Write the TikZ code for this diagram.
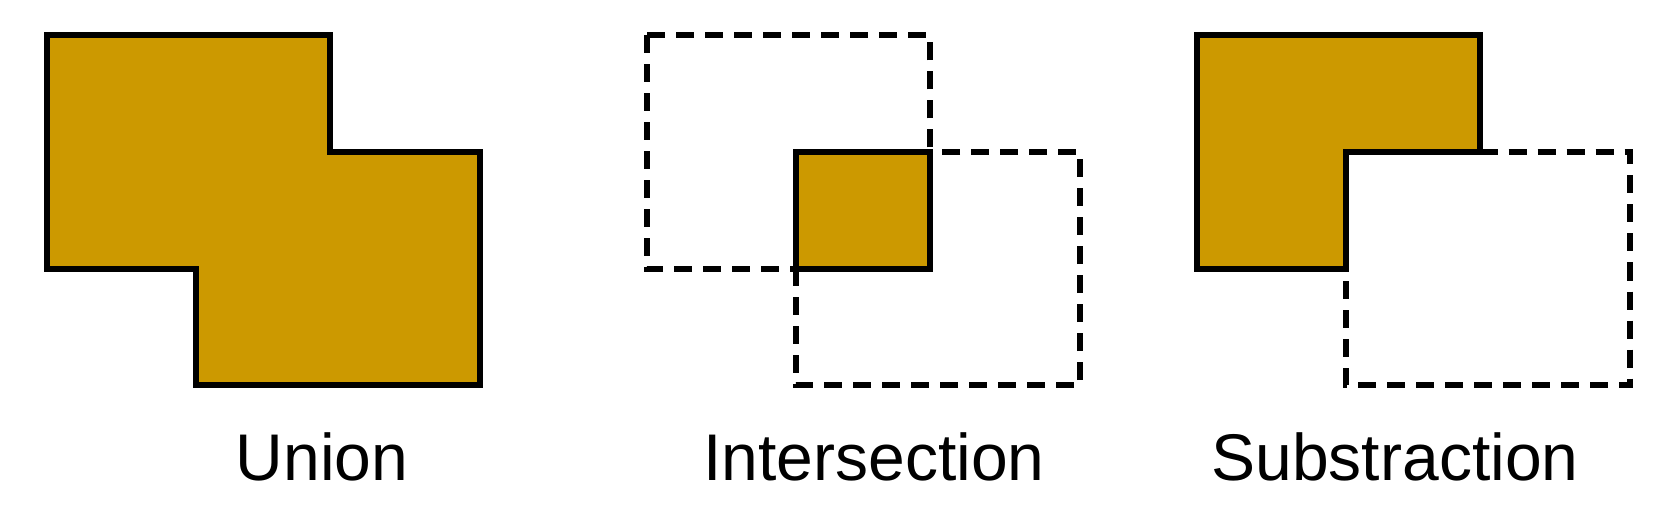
\documentclass[tikz,border=0pt]{standalone}
\usepackage{fontspec}
\setmainfont{Liberation Sans}
\definecolor{gold}{RGB}{204,153,0}
\begin{document}
\begin{tikzpicture}[x=0.5pt,y=-0.5pt,
  solidshape/.style={draw=black,line width=3pt,fill=gold},
  dashshape/.style={draw=black,line width=3pt,dash pattern=on 9pt off 5.5pt},
  caption/.style={anchor=base,inner sep=0pt,font=\fontsize{33pt}{36pt}\selectfont}]
\useasboundingbox (0,0) rectangle (1680,518);
% Union
\draw[solidshape] (46.5,35.5) -- (329.5,35.5) -- (329.5,152) -- (480,152) -- (480,385) -- (196,385) -- (196,269) -- (46.5,269) -- cycle;
\node[caption] (union) at (322,480) {Union};
% Intersection
\draw[dashshape] (646.5,35.5) rectangle (929.5,269);
\draw[dashshape] (796,152) rectangle (1080,385);
\draw[solidshape] (796,152) rectangle (929.5,269);
\node[caption] (inter) at (874,480) {Intersection};
% Substraction
\draw[dashshape] (1479.5,152) -- (1630,152) -- (1630,385) -- (1346,385) -- (1346,269);
\draw[solidshape] (1196.5,35.5) -- (1479.5,35.5) -- (1479.5,152) -- (1346,152) -- (1346,269) -- (1196.5,269) -- cycle;
\node[caption] (subst) at (1395,480) {Substraction};
\end{tikzpicture}
\end{document}
